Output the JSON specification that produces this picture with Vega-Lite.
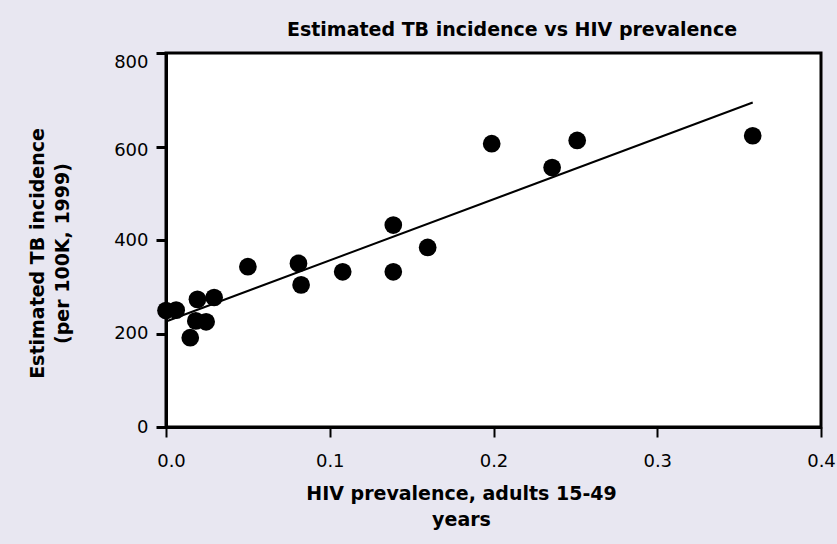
{
  "$schema": "https://vega.github.io/schema/vega-lite/v6.json",
  "width": 655,
  "height": 374,
  "autosize": {"type": "none"},
  "padding": {"left": 166, "top": 53, "right": 16, "bottom": 117},
  "background": "#e8e7f1",
  "config": {
    "view": {"fill": "white", "stroke": "black", "strokeWidth": 3},
    "font": "DejaVu Sans"
  },
  "title": {
    "text": "Estimated TB incidence vs HIV prevalence",
    "fontSize": 19,
    "fontWeight": "bold",
    "color": "black",
    "font": "DejaVu Sans",
    "anchor": "middle",
    "frame": "group",
    "dx": 18.5,
    "offset": 12
  },
  "data": {
    "values": [
      {"hiv": 0.0, "tb": 249},
      {"hiv": 0.0062, "tb": 250},
      {"hiv": 0.0148, "tb": 191},
      {"hiv": 0.0192, "tb": 273},
      {"hiv": 0.0182, "tb": 227},
      {"hiv": 0.0245, "tb": 225},
      {"hiv": 0.0294, "tb": 277},
      {"hiv": 0.05, "tb": 343},
      {"hiv": 0.0809, "tb": 350},
      {"hiv": 0.0825, "tb": 304},
      {"hiv": 0.1079, "tb": 332},
      {"hiv": 0.1388, "tb": 432},
      {"hiv": 0.1388, "tb": 332},
      {"hiv": 0.1598, "tb": 384},
      {"hiv": 0.1989, "tb": 606},
      {"hiv": 0.2358, "tb": 555},
      {"hiv": 0.2511, "tb": 613},
      {"hiv": 0.3583, "tb": 623}
    ]
  },
  "encoding": {
    "x": {
      "field": "hiv",
      "type": "quantitative",
      "scale": {"domain": [0, 0.4], "nice": false, "zero": false},
      "axis": {
        "values": [0, 0.1, 0.2, 0.3, 0.4],
        "format": ".1f",
        "title": ["HIV prevalence, adults 15-49", "years"],
        "grid": false,
        "domainColor": "black",
        "domainWidth": 3,
        "tickColor": "black",
        "tickWidth": 2,
        "tickSize": 10,
        "labelFont": "DejaVu Sans",
        "labelFontSize": 18,
        "labelColor": "black",
        "labelPadding": 15,
        "labelFlush": false,
        "labelOverlap": false,
        "labelOffset": {"condition": {"test": "datum.value == 0", "value": 5}, "value": 0},
        "titleFont": "DejaVu Sans",
        "titleFontSize": 19,
        "titleFontWeight": "bold",
        "titleColor": "black",
        "titleLineHeight": 26,
        "titleX": 295,
        "titleY": 57,
        "titleBaseline": "top",
        "titleAlign": "center"
      }
    },
    "y": {
      "field": "tb",
      "type": "quantitative",
      "scale": {"domain": [0, 800], "nice": false},
      "axis": {
        "values": [0, 200, 400, 600, 800],
        "title": ["Estimated TB incidence", "(per 100K, 1999)"],
        "grid": false,
        "domainColor": "black",
        "domainWidth": 3,
        "tickColor": "black",
        "tickWidth": 3,
        "tickSize": 10,
        "labelFont": "DejaVu Sans",
        "labelFontSize": 18,
        "labelColor": "black",
        "labelPadding": 8,
        "labelFlush": false,
        "labelOverlap": false,
        "labelBaseline": {"condition": {"test": "datum.value == 800", "value": "top"}, "value": "middle"},
        "labelOffset": {"condition": {"test": "datum.value == 600", "value": 4}, "value": 0},
        "titleFont": "DejaVu Sans",
        "titleFontSize": 19,
        "titleFontWeight": "bold",
        "titleColor": "black",
        "titleLineHeight": 25,
        "titleAngle": -90,
        "titleX": -138,
        "titleY": 200,
        "titleBaseline": "top",
        "titleAlign": "center"
      }
    }
  },
  "layer": [
    {
      "transform": [{"regression": "tb", "on": "hiv"}],
      "mark": {"type": "line", "color": "black", "strokeWidth": 2}
    },
    {
      "mark": {"type": "circle", "size": 314, "color": "black", "opacity": 1}
    }
  ]
}
